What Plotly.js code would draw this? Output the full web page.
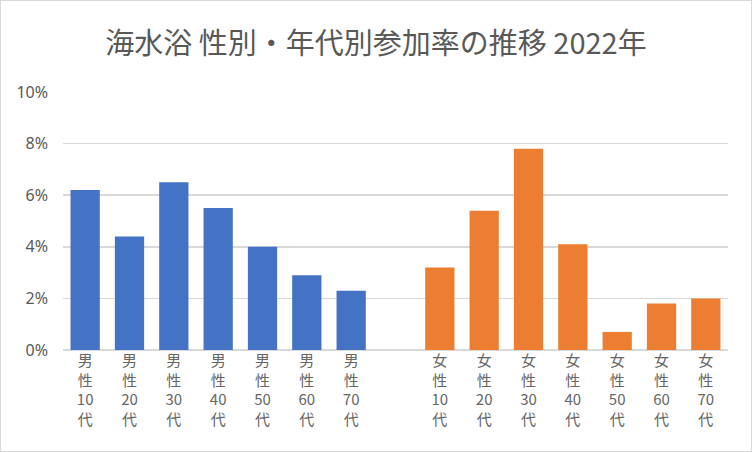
<!DOCTYPE html>
<html>
<head>
<meta charset="utf-8">
<script src="https://cdn.plot.ly/plotly-3.0.1.min.js"></script>
<style>
html,body{margin:0;padding:0;background:#fff;}
#chart{width:750px;height:450px;border:1px solid #d9d9d9;}
</style>
</head>
<body>
<div id="chart"></div>
<script>
const categories = ["男性10代","男性20代","男性30代","男性40代","男性50代","男性60代","男性70代"," ","女性10代","女性20代","女性30代","女性40代","女性50代","女性60代","女性70代"];
const maleValues   = [6.2, 4.4, 6.5, 5.5, 4.0, 2.9, 2.3, null, null, null, null, null, null, null, null];
const femaleValues = [null, null, null, null, null, null, null, null, 3.2, 5.4, 7.8, 4.1, 0.7, 1.8, 2.0];
const yTicks = [0, 2, 4, 6, 8, 10];
const yTickLabels = ["0%", "2%", "4%", "6%", "8%", "10%"];

// vertical-style tick text: each CJK char on its own line, digits kept together
function verticalText(s) {
  const parts = s.match(/[0-9]+|./g) || [];
  return parts.join("<br>");
}
const tickText = categories.map(verticalText);

const traces = [
  {type: "bar", name: "男性", x: categories, y: maleValues, marker: {color: "#4472C4"}, hoverinfo: "x+y"},
  {type: "bar", name: "女性", x: categories, y: femaleValues, marker: {color: "#ED7D31"}, hoverinfo: "x+y"}
];

const layout = {
  width: 750, height: 450,
  margin: {l: 62, r: 23, t: 91, b: 101},
  paper_bgcolor: "#ffffff", plot_bgcolor: "#ffffff",
  showlegend: false,
  barmode: "relative",
  bargap: 0.34,
  title: {
    text: "海水浴 性別・年代別参加率の推移 2022年",
    font: {family: "Noto Sans CJK JP", size: 29, color: "#595959"},
    x: 0.5, xanchor: "center", y: 0.905, yanchor: "middle", xref: "container", yref: "container"
  },
  xaxis: {
    type: "category",
    tickmode: "array", tickvals: categories, ticktext: tickText,
    tickangle: 0,
    tickfont: {family: "Noto Sans CJK JP", size: 15, color: "#666666"},
    showgrid: false, zeroline: false, showline: false, ticks: "",
    fixedrange: true
  },
  yaxis: {
    range: [0, 10], tickmode: "array", tickvals: yTicks, ticktext: yTickLabels,
    tickfont: {family: "Noto Sans", size: 16, color: "#595959"},
    showgrid: true, gridcolor: "#d9d9d9", gridwidth: 1.5,
    zeroline: true, zerolinecolor: "#d9d9d9", zerolinewidth: 1.5,
    showline: false, ticks: "", ticklabelstandoff: 14,
    fixedrange: true
  }
};

Plotly.newPlot("chart", traces, layout, {displayModeBar: false, staticPlot: true});
</script>
</body>
</html>
